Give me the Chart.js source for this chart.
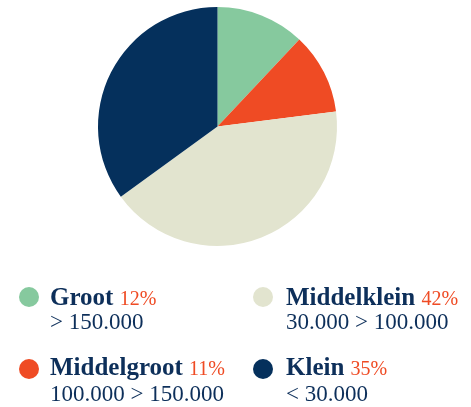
<!DOCTYPE html>
<html>
<head>
<meta charset="utf-8">
<script src="https://cdn.jsdelivr.net/npm/chart.js@4"></script>
<style>
    html, body { margin: 0; padding: 0; background: #fff; }
    #wrap { position: relative; width: 471px; height: 407px; }
</style>
</head>
<body>
<div id="wrap"><canvas id="pieChart" width="471" height="407"></canvas></div>
<script>
const categories = ['Groot', 'Middelgroot', 'Middelklein', 'Klein'];
const shares = [12, 11, 42, 35];
const ranges = ['> 150.000', '100.000 > 150.000', '30.000 > 100.000', '< 30.000'];
const sliceColors = ['#86c99e', '#ef4b24', '#e2e4cf', '#05305c'];

const navy = '#0d2f5a';
const accent = '#ef4b24';

// legend is drawn on the canvas: two columns, categories run down each column
const legendPlugin = {
    id: 'sizeLegend',
    afterDraw(chart) {
        const ctx = chart.ctx;
        const cols = [{ dot: 29, text: 50 }, { dot: 263, text: 286 }];
        const rows = [{ dot: 297, line1: 305, line2: 329 }, { dot: 369, line1: 375, line2: 401 }];
        const labels = chart.data.labels;
        const values = chart.data.datasets[0].data;
        const colors = chart.data.datasets[0].backgroundColor;

        ctx.save();
        ctx.textBaseline = 'alphabetic';
        ctx.textAlign = 'left';
        labels.forEach((label, i) => {
            const col = cols[Math.floor(i / 2)];
            const row = rows[i % 2];

            ctx.fillStyle = colors[i];
            ctx.beginPath();
            ctx.arc(col.dot, row.dot, 10, 0, Math.PI * 2);
            ctx.fill();

            ctx.font = 'bold 25px "Liberation Serif"';
            ctx.fillStyle = navy;
            ctx.fillText(label, col.text, row.line1);
            const w = ctx.measureText(label + ' ').width;

            ctx.font = '20px "Liberation Serif"';
            ctx.fillStyle = accent;
            ctx.fillText(values[i] + '%', col.text + w, row.line1);

            ctx.font = '23px "Liberation Serif"';
            ctx.fillStyle = navy;
            ctx.fillText(ranges[i], col.text, row.line2);
        });
        ctx.restore();
    }
};

new Chart(document.getElementById('pieChart'), {
    type: 'pie',
    data: {
        labels: categories,
        datasets: [{
            data: shares,
            backgroundColor: sliceColors,
            borderWidth: 0
        }]
    },
    options: {
        responsive: false,
        animation: false,
        layout: { padding: { left: 98, right: 134, top: 7, bottom: 161 } },
        plugins: {
            legend: { display: false },
            tooltip: { enabled: false }
        }
    },
    plugins: [legendPlugin]
});
</script>
</body>
</html>
